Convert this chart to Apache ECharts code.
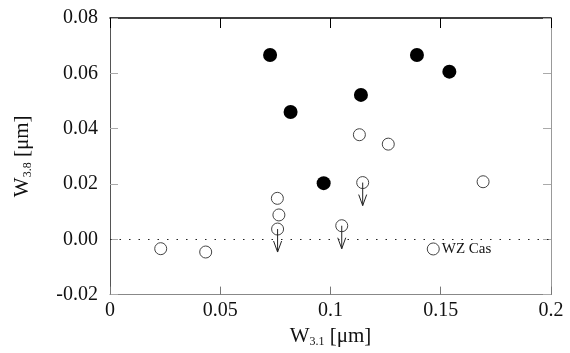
<!DOCTYPE html>
<html>
<head>
<meta charset="utf-8">
<script src="https://cdn.jsdelivr.net/npm/echarts@6/dist/echarts.min.js"></script>
<style>
  html, body { margin: 0; padding: 0; background: #fff; }
  #chart { width: 570px; height: 353px; }
</style>
</head>
<body>
<div id="chart"></div>
<script>
// detected objects (filled)
const detX = [0.0726, 0.0819, 0.0969, 0.1138, 0.1392, 0.1539]
const detY = [0.0666, 0.0460, 0.0203, 0.0522, 0.0666, 0.0606]
// open circles
const openX = [0.0230, 0.0434, 0.0759, 0.0766, 0.0760, 0.1051, 0.1131, 0.1146, 0.1262, 0.1466, 0.1692]
const openY = [-0.0034, -0.0046, 0.0148, 0.0088, 0.0037, 0.0049, 0.0378, 0.0205, 0.0344, -0.0035, 0.0208]
const openNames = ['', '', '', '', '', '', '', '', '', 'WZ Cas', '']
// upper limits (arrows)
const limX = [0.0760, 0.1051, 0.1146]
const limY = [0.0037, 0.0049, 0.0205]

const xTicks = [0, 0.05, 0.1, 0.15, 0.2]
const yTicks = [-0.02, 0, 0.02, 0.04, 0.06, 0.08]

const serif = 'Liberation Serif'
const chart = echarts.init(document.getElementById('chart'))

const nameRich = {
  w: { fontFamily: serif, fontSize: 21, color: '#111', lineHeight: 24 },
  s: { fontFamily: serif, fontSize: 12, color: '#111', lineHeight: 12, verticalAlign: 'bottom' }
}

const tickLabel = { fontFamily: serif, fontSize: 20, color: '#111' }

const option = {
  animation: false,
  backgroundColor: '#fff',
  grid: { left: 110, right: 19, top: 18, bottom: 58 },
  xAxis: [
    {
      type: 'value', min: 0, max: 0.2, interval: 0.05,
      name: '{w|W}{s|3.1}{w| [μm]}',
      nameLocation: 'middle', nameGap: 25,
      nameTextStyle: { rich: nameRich },
      axisLine: { onZero: false, lineStyle: { color: '#888', width: 1 } },
      axisTick: { inside: true, length: 8, lineStyle: { color: '#777' } },
      axisLabel: Object.assign({ margin: 6, formatter: v => String(xTicks.find(t => Math.abs(t - v) < 1e-9) ?? v) }, tickLabel),
      splitLine: { show: false }
    },
    {
      type: 'value', position: 'top', min: 0, max: 0.2, interval: 0.05,
      axisLine: { onZero: false, lineStyle: { color: '#000', width: 1.5 } },
      axisTick: { inside: true, length: 10, lineStyle: { color: '#000' } },
      axisLabel: { show: false },
      splitLine: { show: false }
    }
  ],
  yAxis: [
    {
      type: 'value', min: -0.02, max: 0.08, interval: 0.02,
      name: '{w|W}{s|3.8}{w| [μm]}',
      nameLocation: 'middle', nameGap: 76, nameRotate: 90,
      nameTextStyle: { rich: nameRich },
      axisLine: { onZero: false, lineStyle: { color: '#555', width: 1 } },
      axisTick: { inside: true, length: 8, lineStyle: { color: '#aaa' } },
      axisLabel: Object.assign({ margin: 12, formatter: v => (yTicks.find(t => Math.abs(t - v) < 1e-9) ?? v).toFixed(2) }, tickLabel),
      splitLine: { show: false }
    },
    {
      type: 'value', position: 'right', min: -0.02, max: 0.08, interval: 0.02,
      axisLine: { onZero: false, lineStyle: { color: '#999', width: 1 } },
      axisTick: { inside: true, length: 8, lineStyle: { color: '#aaa' } },
      axisLabel: { show: false },
      splitLine: { show: false }
    }
  ],
  series: [
    {
      type: 'scatter',
      symbol: 'circle',
      symbolSize: 12,
      itemStyle: { color: 'rgba(255,255,255,0)', borderColor: '#444', borderWidth: 1, opacity: 1 },
      label: {
        show: true, position: 'right', distance: 2,
        formatter: p => p.name,
        fontFamily: serif, fontSize: 15, color: '#111'
      },
      data: openX.map((x, i) => ({ name: openNames[i], value: [x, openY[i]] })),
      markLine: {
        silent: true, symbol: 'none',
        label: { show: false },
        lineStyle: { color: '#222', type: [1.5, 8], width: 1.2 },
        data: [{ yAxis: 0 }]
      }
    },
    {
      type: 'scatter',
      symbol: 'circle',
      symbolSize: 14,
      itemStyle: { color: '#000', opacity: 1 },
      data: detX.map((x, i) => [x, detY[i]])
    },
    {
      type: 'custom',
      renderItem: function (params, api) {
        const p = api.coord([api.value(0), api.value(1)])
        const y1 = p[1] + 23
        return {
          type: 'group',
          children: [
            { type: 'line', shape: { x1: p[0], y1: p[1], x2: p[0], y2: y1 }, style: { stroke: '#222', lineWidth: 1 } },
            { type: 'polyline', shape: { points: [[p[0] - 4, y1 - 11], [p[0], y1], [p[0] + 4, y1 - 11]] }, style: { stroke: '#222', fill: null, lineWidth: 1 } }
          ]
        }
      },
      data: limX.map((x, i) => [x, limY[i]]),
      z: 5
    }
  ]
}

chart.setOption(option)
</script>
</body>
</html>
